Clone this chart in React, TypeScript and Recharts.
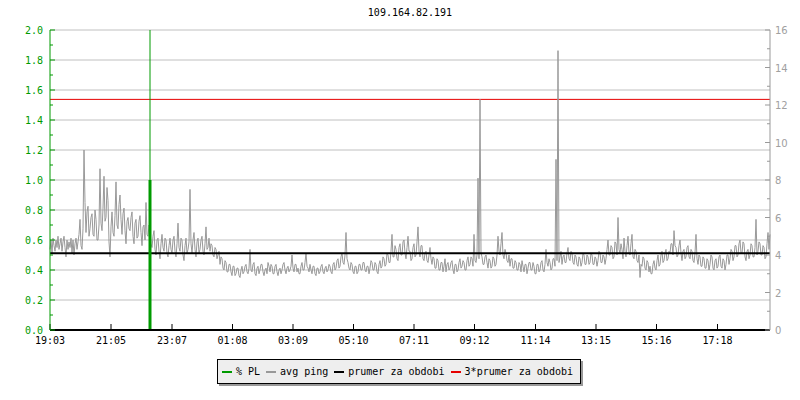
import { ComposedChart, Line, Bar, XAxis, YAxis, CartesianGrid, ReferenceLine } from 'recharts';

const title = '109.164.82.191';

// avg ping in ms, one sample every 2 minutes starting 19:03
const stepMinutes = 2;
const pingValues = [
  4.3, 4.8, 4.1, 4.9, 4.5, 4.2, 4.8, 4.4, 5.0, 4.3,
  4.6, 4.9, 4.2, 4.7, 5.0, 4.4, 3.9, 4.8, 4.3, 4.7,
  4.4, 4.9, 4.1, 4.8, 4.0, 4.6, 4.9, 4.3, 4.7, 5.1,
  5.9, 4.5, 4.3, 5.4, 9.6, 6.8, 5.2, 6.3, 6.6, 5.0,
  5.4, 6.0, 6.2, 5.1, 5.0, 6.4, 5.9, 4.8, 4.8, 5.6,
  8.6, 5.7, 5.3, 6.5, 8.2, 5.8, 6.0, 7.6, 6.9, 4.7,
  3.9, 5.5, 6.3, 5.2, 5.0, 6.1, 7.9, 5.6, 5.4, 6.7,
  7.2, 5.9, 5.1, 6.2, 6.5, 5.3, 4.6, 5.8, 6.0, 5.4,
  5.3, 6.0, 6.3, 5.0, 4.6, 5.7, 5.9, 4.9, 5.0, 5.8,
  6.1, 5.2, 4.5, 5.5, 5.6, 4.8, 6.8, 5.1, 5.0, 5.6,
  5.2, 4.6, 4.4, 5.0, 5.3, 4.3, 4.0, 4.8, 4.9, 4.2,
  3.8, 4.6, 5.1, 4.4, 4.2, 4.9, 4.8, 4.1, 3.9, 4.5,
  4.9, 4.3, 4.1, 4.8, 5.0, 4.2, 3.9, 4.6, 5.7, 4.4,
  4.2, 4.9, 4.8, 4.0, 3.7, 4.5, 4.9, 4.1, 4.3, 4.7,
  7.5, 4.6, 4.1, 4.8, 5.2, 4.3, 3.9, 4.7, 4.9, 4.1,
  4.3, 4.8, 5.0, 4.2, 4.0, 4.6, 5.5, 4.3, 4.4, 4.9,
  4.2, 4.6, 4.5, 4.0, 3.9, 4.4, 4.3, 3.8, 4.0, 4.2,
  3.5, 3.9, 3.8, 3.3, 3.2, 3.7, 3.6, 3.1, 3.1, 3.5,
  3.5, 3.1, 2.9, 3.4, 3.4, 2.9, 3.0, 3.3, 3.3, 2.9,
  2.8, 3.2, 3.4, 3.0, 3.1, 3.4, 3.5, 3.1, 3.0, 3.3,
  4.3, 3.2, 3.1, 3.5, 3.6, 3.0, 2.9, 3.3, 3.4, 3.0,
  3.2, 3.5, 3.5, 3.1, 2.9, 3.2, 3.3, 3.0, 3.6, 3.4,
  3.1, 3.5, 3.4, 3.0, 3.0, 3.4, 3.5, 3.1, 2.9, 3.2,
  3.3, 3.0, 3.2, 3.5, 3.6, 3.2, 3.0, 3.3, 3.4, 3.1,
  3.2, 3.4, 4.0, 3.3, 3.1, 3.5, 3.5, 3.1, 3.3, 3.0,
  3.0, 3.4, 3.6, 3.2, 3.2, 3.6, 4.1, 3.4, 3.3, 3.1,
  3.5, 3.2, 3.0, 3.4, 3.4, 3.0, 2.9, 3.3, 3.3, 3.0,
  3.1, 3.4, 3.5, 3.1, 3.0, 3.3, 3.4, 3.1, 3.2, 3.5,
  3.4, 3.1, 3.0, 3.5, 3.6, 3.2, 3.3, 3.7, 3.8, 3.3,
  3.4, 3.9, 4.1, 3.6, 3.5, 4.0, 5.2, 3.8, 3.6, 3.3,
  3.2, 3.6, 3.5, 3.1, 3.0, 3.4, 3.4, 3.0, 3.1, 3.5,
  3.5, 3.2, 3.2, 3.6, 3.6, 3.2, 3.1, 3.4, 3.4, 3.0,
  3.3, 3.7, 3.6, 3.2, 3.2, 3.6, 3.5, 3.1, 3.0, 3.5,
  3.7, 3.3, 3.4, 3.9, 3.8, 3.4, 3.5, 4.1, 4.0, 3.6,
  3.6, 4.2, 5.1, 3.9, 3.9, 4.5, 4.3, 3.8, 3.7, 4.4,
  4.6, 4.0, 4.0, 4.7, 4.8, 4.1, 3.8, 4.4, 5.0, 4.2,
  4.2, 3.7, 3.8, 4.4, 4.6, 3.9, 4.0, 4.7, 5.5, 4.2,
  3.9, 4.5, 4.5, 3.8, 3.7, 4.1, 4.2, 3.7, 3.6, 4.0,
  4.4, 3.8, 3.5, 3.9, 3.8, 3.3, 3.3, 3.8, 3.7, 3.2,
  3.2, 3.6, 3.6, 3.1, 3.4, 3.8, 3.1, 3.5, 3.6, 3.2,
  3.3, 3.6, 3.7, 3.2, 3.0, 3.5, 3.5, 3.1, 3.2, 3.6,
  3.8, 3.3, 3.4, 3.7, 3.6, 3.2, 3.2, 3.7, 3.9, 3.4,
  3.5, 3.9, 3.8, 3.4, 5.1, 3.7, 3.6, 4.0, 8.1, 3.8,
  12.3, 4.1, 3.9, 3.5, 3.5, 3.9, 4.0, 3.6, 3.3, 3.8,
  3.7, 3.3, 3.4, 3.9, 3.8, 3.4, 3.5, 4.0, 5.0, 4.2,
  4.0, 4.6, 5.2, 4.0, 3.8, 4.3, 4.1, 3.7, 3.6, 4.0,
  3.4, 3.8, 3.8, 3.3, 3.3, 3.7, 3.6, 3.2, 3.2, 3.6,
  3.5, 3.1, 3.7, 3.4, 3.1, 3.5, 3.5, 3.0, 3.3, 3.6,
  3.6, 3.2, 3.2, 3.6, 3.4, 3.0, 3.0, 3.5, 3.5, 3.1,
  3.2, 3.6, 3.7, 3.2, 3.1, 3.5, 4.3, 3.6, 3.4, 3.8,
  3.6, 3.2, 3.3, 3.8, 3.8, 3.4, 9.1, 3.7, 14.9, 3.6,
  3.9, 4.2, 3.5, 3.9, 4.0, 3.6, 3.6, 4.1, 4.4, 3.8,
  3.7, 4.2, 4.1, 3.6, 3.5, 4.0, 3.9, 3.5, 3.4, 3.9,
  3.8, 3.4, 3.6, 4.1, 4.0, 3.5, 3.5, 4.0, 3.9, 3.5,
  3.6, 4.1, 4.0, 3.5, 3.5, 3.9, 3.8, 3.4, 3.7, 4.2,
  4.1, 3.6, 3.6, 4.0, 3.9, 3.5, 3.8, 4.3, 4.8, 4.0,
  4.0, 4.5, 4.4, 3.8, 3.9, 4.7, 4.6, 4.0, 6.0, 4.3,
  4.1, 4.6, 4.3, 3.8, 4.9, 4.2, 3.9, 4.5, 5.0, 4.1,
  4.0, 4.6, 5.1, 3.9, 3.8, 4.3, 4.2, 3.7, 3.6, 4.0,
  2.8, 3.5, 3.4, 3.9, 3.8, 3.3, 3.2, 3.7, 3.6, 3.1,
  3.4, 3.0, 3.0, 3.5, 3.7, 3.3, 3.2, 3.7, 4.0, 3.4,
  3.5, 4.0, 4.2, 3.6, 3.7, 4.1, 4.3, 3.7, 3.8, 4.2,
  4.1, 4.6, 4.6, 4.0, 5.3, 4.5, 4.4, 3.9, 4.0, 4.5,
  4.8, 4.1, 3.7, 4.2, 4.3, 3.8, 3.9, 4.4, 4.5, 3.9,
  3.8, 4.3, 4.2, 3.7, 3.6, 4.1, 5.1, 3.8, 3.5, 4.0,
  3.9, 3.4, 3.4, 3.9, 3.8, 3.3, 3.3, 3.8, 3.7, 3.2,
  3.5, 4.0, 3.9, 3.3, 3.2, 3.7, 3.8, 3.3, 3.4, 3.9,
  4.0, 3.4, 3.3, 3.8, 3.7, 3.2, 3.5, 4.0, 4.0, 3.5,
  3.8, 4.3, 4.2, 3.7, 3.9, 4.5, 4.5, 3.9, 4.0, 4.6,
  4.8, 4.1, 4.1, 4.7, 4.6, 3.9, 3.7, 4.2, 4.3, 3.8,
  4.0, 4.6, 4.5, 3.9, 3.9, 4.4, 5.9, 4.0, 4.2, 4.7,
  4.6, 4.0, 4.0, 4.5, 4.4, 3.8, 3.9, 4.6, 5.2, 4.3,
  5.1,
];

// packet loss event (left axis): thick bar up to plValue, thin marker up to plPeak
const plMinute = 200;
const plValue = 1.0;
const plPeak = 2.0;

// prumer za obdobi (ms), the red line is 3x that
const avgPing = 4.1;
const tripleAvg = 3 * avgPing;

const xTickMinutes = [0, 122, 244, 365, 486, 607, 728, 849, 971, 1092, 1213, 1335];
const xTickLabels = ['19:03', '21:05', '23:07', '01:08', '03:09', '05:10', '07:11', '09:12', '11:14', '13:15', '15:16', '17:18'];

const leftTicks = [0, 0.1, 0.2, 0.3, 0.4, 0.5, 0.6, 0.7, 0.8, 0.9, 1.0, 1.1, 1.2, 1.3, 1.4, 1.5, 1.6, 1.7, 1.8, 1.9, 2.0];
const gridValues = [0.2, 0.4, 0.6, 0.8, 1.0, 1.2, 1.4, 1.6, 1.8, 2.0];
const rightTicks = [0, 1, 2, 3, 4, 5, 6, 7, 8, 9, 10, 11, 12, 13, 14, 15, 16];

const GREEN = '#009a00';
const GRAY = '#999999';
const RED = '#e60000';
const MONO = '"DejaVu Sans Mono", monospace';

const legendItems = [
  { label: '% PL', color: GREEN },
  { label: 'avg ping', color: GRAY },
  { label: 'prumer za obdobi', color: '#000000' },
  { label: '3*prumer za obdobi', color: RED },
];

const data = pingValues.map((ping, i) => ({
  t: i * stepMinutes,
  ping,
  pl: i * stepMinutes === plMinute ? plValue : undefined,
}));

function LeftTick({ x, y, payload }: any) {
  const v = payload.value;
  const major = Math.round(v * 10) % 2 === 0;
  const ax = x + 7;
  return (
    <g>
      <line x1={ax} x2={ax + (major ? 5 : 3)} y1={y} y2={y} stroke={GREEN} />
      {major && (
        <text x={x} y={y} dy={4} textAnchor="end" fill={GREEN} fontSize={10} fontFamily={MONO}>
          {v.toFixed(1)}
        </text>
      )}
    </g>
  );
}

function RightTick({ x, y, payload }: any) {
  const v = payload.value;
  const major = v % 2 === 0;
  const ax = x - 5;
  return (
    <g>
      <line x1={ax} x2={ax - (major ? 5 : 3)} y1={y} y2={y} stroke={GRAY} />
      {major && (
        <text x={x} y={y} dy={4} textAnchor="start" fill="#a0a0a0" fontSize={10} fontFamily='"DejaVu Sans", sans-serif'>
          {v}
        </text>
      )}
    </g>
  );
}

export default function App() {
  return (
    <div style={{ position: 'absolute', left: 0, top: 0, width: 800, height: 400, background: '#fff' }}>
      <div
        style={{
          position: 'absolute', left: 50, top: 6, width: 720, textAlign: 'center',
          fontFamily: MONO, fontSize: 10, lineHeight: '14px', color: '#000',
        }}
      >
        {title}
      </div>

      <ComposedChart width={800} height={400} data={data} margin={{ top: 30, right: 0, bottom: 40, left: 0 }}>
        <CartesianGrid yAxisId="left" vertical={false} horizontalValues={gridValues} stroke="#c0c0c0" />
        <XAxis
          dataKey="t"
          type="number"
          domain={[0, 1440]}
          ticks={xTickMinutes}
          interval={0}
          tickFormatter={(v) => xTickLabels[xTickMinutes.indexOf(v)]}
          height={30}
          axisLine={{ stroke: '#000', strokeWidth: 2 }}
          tickLine={{ stroke: '#000' }}
          tickSize={-6}
          tickMargin={13}
          tick={{ fill: '#000', fontSize: 10, fontFamily: MONO }}
        />
        <YAxis
          yAxisId="left"
          domain={[0, 2]}
          ticks={leftTicks}
          interval={0}
          width={50}
          axisLine={{ stroke: GREEN }}
          tickLine={false}
          tickSize={0}
          tickMargin={7}
          tick={(p: any) => <LeftTick {...p} />}
        />
        <YAxis
          yAxisId="right"
          orientation="right"
          domain={[0, 16]}
          ticks={rightTicks}
          interval={0}
          width={30}
          axisLine={{ stroke: GRAY }}
          tickLine={false}
          tickSize={0}
          tickMargin={5}
          tick={(p: any) => <RightTick {...p} />}
        />
        <ReferenceLine yAxisId="right" y={tripleAvg} stroke={RED} strokeWidth={1} />
        <Line
          yAxisId="right"
          type="linear"
          dataKey="ping"
          stroke={GRAY}
          strokeWidth={1}
          dot={false}
          isAnimationActive={false}
        />
        <ReferenceLine yAxisId="right" y={avgPing} stroke="#000" strokeWidth={2} />
        <Bar yAxisId="left" dataKey="pl" fill={GREEN} barSize={3} isAnimationActive={false} />
        <ReferenceLine
          yAxisId="left"
          segment={[{ x: plMinute, y: 0 }, { x: plMinute, y: plPeak }]}
          stroke={GREEN}
          strokeWidth={1}
        />
        <ReferenceLine
          yAxisId="left"
          segment={[{ x: plMinute, y: 0 }, { x: plMinute, y: plValue }]}
          stroke={GREEN}
          strokeWidth={3}
        />
      </ComposedChart>

      <div
        style={{
          position: 'absolute', left: 217, top: 359, width: 364, height: 25, boxSizing: 'border-box',
          border: '1px solid #000', background: '#eeeeee', boxShadow: '2px 2px 0 #999',
          display: 'flex', alignItems: 'center', paddingLeft: 4,
          fontFamily: MONO, fontSize: 10, color: '#000',
        }}
      >
        {legendItems.map((item) => (
          <span key={item.label} style={{ display: 'flex', alignItems: 'center', marginRight: 6 }}>
            <span style={{ display: 'inline-block', width: 10, height: 2, background: item.color, marginRight: 4 }} />
            {item.label}
          </span>
        ))}
      </div>
    </div>
  );
}
